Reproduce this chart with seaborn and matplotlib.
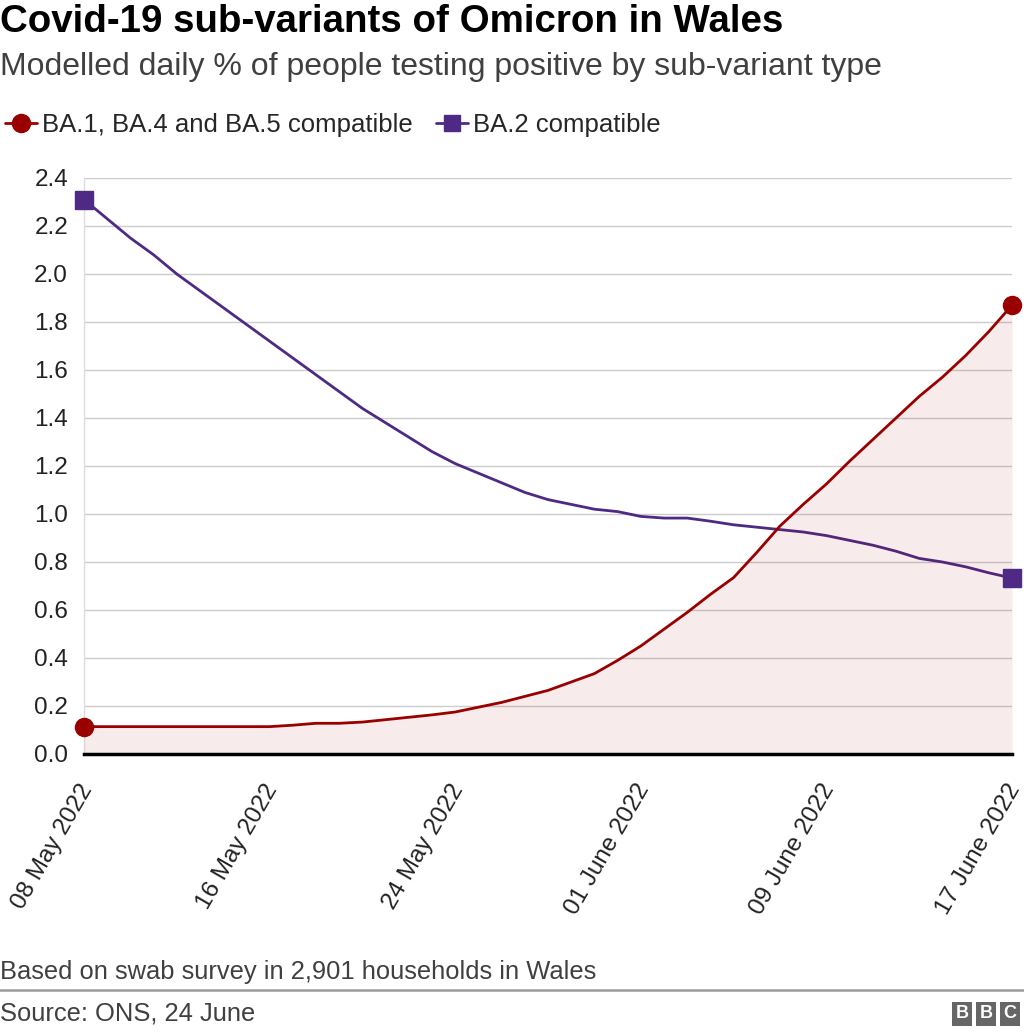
import pandas as pd
import matplotlib
matplotlib.use("Agg")
import matplotlib.pyplot as plt
import matplotlib.transforms as mtransforms
import seaborn as sns
from matplotlib.lines import Line2D

# --- data (daily values) ---
dates = pd.date_range("2022-05-08", "2022-06-17", freq="D")

ba1_ba4_ba5 = [0.114, 0.114, 0.114, 0.114, 0.114, 0.114, 0.114, 0.114, 0.114, 0.12,
               0.128, 0.128, 0.133, 0.143, 0.153, 0.163, 0.175, 0.195, 0.215, 0.24,
               0.265, 0.30, 0.335, 0.39, 0.45, 0.52, 0.59, 0.665, 0.735, 0.84,
               0.95, 1.04, 1.125, 1.22, 1.31, 1.40, 1.49, 1.57, 1.66, 1.76, 1.87]

ba2 = [2.31, 2.23, 2.15, 2.08, 2.00, 1.93, 1.86, 1.79, 1.72, 1.65,
       1.58, 1.51, 1.44, 1.38, 1.32, 1.26, 1.21, 1.17, 1.13, 1.09,
       1.06, 1.04, 1.02, 1.01, 0.99, 0.983, 0.983, 0.97, 0.955, 0.945,
       0.935, 0.925, 0.91, 0.89, 0.87, 0.845, 0.815, 0.80, 0.78, 0.755, 0.733]

series_names = ["BA.1, BA.4 and BA.5 compatible", "BA.2 compatible"]
tick_dates = ["2022-05-08", "2022-05-16", "2022-05-24", "2022-06-01", "2022-06-09", "2022-06-17"]
tick_labels = ["08 May 2022", "16 May 2022", "24 May 2022", "01 June 2022", "09 June 2022", "17 June 2022"]
y_ticks = [0.0, 0.2, 0.4, 0.6, 0.8, 1.0, 1.2, 1.4, 1.6, 1.8, 2.0, 2.2, 2.4]

RED = "#990000"
PURPLE = "#4e2a84"

df = pd.DataFrame({
    "date": list(dates) * 2,
    "value": ba1_ba4_ba5 + ba2,
    "variant": [series_names[0]] * len(dates) + [series_names[1]] * len(dates),
})

sns.set_theme(style="white")
plt.rcParams["font.family"] = ["Liberation Sans", "DejaVu Sans"]

fig = plt.figure(figsize=(10.24, 10.35), dpi=100)
ax = fig.add_axes([84 / 1024, 1 - 754 / 1035, 928 / 1024, 576 / 1035])

# purple under the shaded area, red on top
sns.lineplot(data=df[df.variant == series_names[1]], x="date", y="value",
             color=PURPLE, linewidth=2.0, ax=ax, zorder=2, legend=False)
ax.fill_between(dates, ba1_ba4_ba5, 0, color=RED, alpha=0.08, linewidth=0, zorder=3)
sns.lineplot(data=df[df.variant == series_names[0]], x="date", y="value",
             color=RED, linewidth=2.0, ax=ax, zorder=4, legend=False)

# end markers
ax.plot([dates[0], dates[-1]], [ba1_ba4_ba5[0], ba1_ba4_ba5[-1]], "o", color=RED,
        markersize=13, clip_on=False, zorder=5)
ax.plot([dates[0], dates[-1]], [ba2[0], ba2[-1]], "s", color=PURPLE,
        markersize=13.5, clip_on=False, zorder=5)

ax.set_xlim(dates[0], dates[-1])
ax.set_ylim(0, 2.4)
ax.set_yticks(y_ticks)
ax.set_yticklabels([f"{v:.1f}" for v in y_ticks])
ax.set_xticks(pd.to_datetime(tick_dates))
ax.set_xticklabels(tick_labels, rotation=60, ha="right", rotation_mode="anchor")
ax.tick_params(axis="both", length=0, labelsize=17.5, labelcolor="#222222")
ax.tick_params(axis="x", pad=19)
ax.tick_params(axis="y", pad=11.5)
ax.set_xlabel("")
ax.set_ylabel("")

# nudge the date labels a little to the left
shift = mtransforms.ScaledTranslation(-6 / 100, 0, fig.dpi_scale_trans)
for lbl in ax.get_xticklabels():
    lbl.set_transform(lbl.get_transform() + shift)

ax.grid(axis="y", color="#cccccc", linewidth=1)
ax.set_axisbelow(True)
for s in ["top", "right"]:
    ax.spines[s].set_visible(False)
ax.spines["left"].set_color("#dddddd")
ax.spines["left"].set_linewidth(1)
ax.spines["bottom"].set_color("black")
ax.spines["bottom"].set_linewidth(2.5)
ax.spines["bottom"].set_zorder(6)

# legend
handles = [
    Line2D([0], [0], color=RED, marker="o", markersize=13, linewidth=2.0),
    Line2D([0], [0], color=PURPLE, marker="s", markersize=12, linewidth=2.0),
]
fig.legend(handles, series_names, loc="center left", bbox_to_anchor=(5 / 1024, 1 - 125 / 1035),
           ncol=2, frameon=False, fontsize=18.5, handlelength=1.25, handletextpad=0.2,
           columnspacing=0.9, borderaxespad=0, borderpad=0)

# titles
fig.text(0.0, 1 - 22 / 1035, "Covid-19 sub-variants of Omicron in Wales",
         fontsize=27.7, fontweight="bold", va="center", ha="left", color="black")
fig.text(0.0, 1 - 67 / 1035, "Modelled daily % of people testing positive by sub-variant type",
         fontsize=23, va="center", ha="left", color="#404040")

# footer
fig.text(0.0, 1 - 972 / 1035, "Based on swab survey in 2,901 households in Wales",
         fontsize=18.4, va="center", ha="left", color="#404040")
fig.add_artist(Line2D([0, 1], [1 - 990 / 1035, 1 - 990 / 1035], color="#999999", linewidth=1.8))
fig.text(0.0, 1 - 1013 / 1035, "Source: ONS, 24 June",
         fontsize=18.4, va="center", ha="left", color="#404040")
for i, letter in enumerate("BBC"):
    fig.text((962 + i * 24) / 1024, 1 - 1014 / 1035, letter, fontsize=13, fontweight="bold",
             color="white", ha="center", va="center",
             bbox=dict(boxstyle="square,pad=0.18", facecolor="#666666", edgecolor="none"))

fig.savefig("out.png", dpi=100)
